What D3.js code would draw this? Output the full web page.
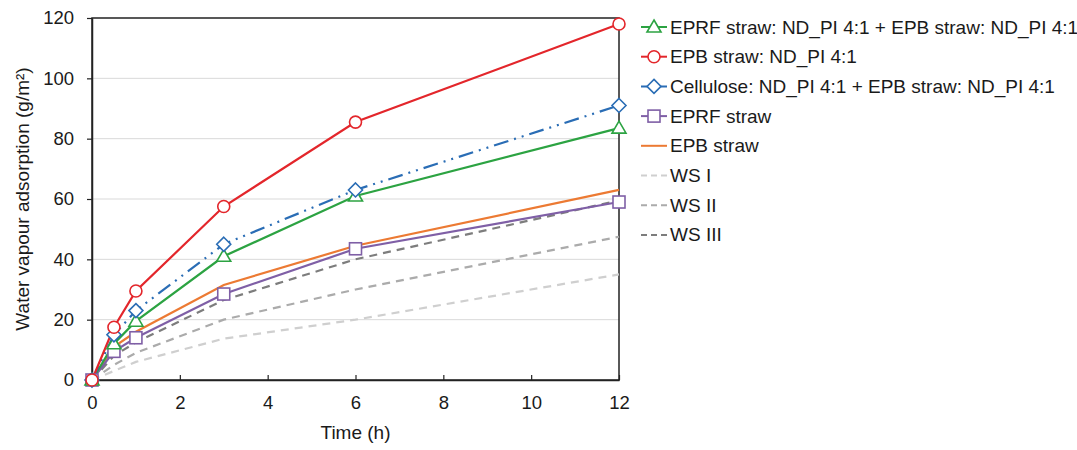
<!DOCTYPE html>
<html>
<head>
<meta charset="utf-8">
<script src="https://cdn.jsdelivr.net/npm/d3@7"></script>
<style>
  body { margin: 0; background: #fff; }
  svg { font-family: "Liberation Sans", Arial, sans-serif; }
</style>
</head>
<body>
<svg id="chart" width="1077" height="450"></svg>
<script>
// times in hours
const times = [0, 0.5, 1, 3, 6, 12];

const eprfMix = [0, 12, 19.5, 41, 61, 83.5];
const epbNd = [0, 17.5, 29.5, 57.5, 85.5, 118];
const celluloseMix = [0, 15, 23, 45, 63, 91];
const eprfStraw = [0, 9.5, 14, 28.5, 43.5, 59];
const epbStraw = [0, 11, 16, 31.5, 44.5, 63];
const ws1 = [0, 3, 6, 13.7, 20, 35];
const ws2 = [0, 5, 9, 20, 30, 47.5];
const ws3 = [0, 8, 12.5, 26.5, 40, 59.5];

const xTicks = [0, 2, 4, 6, 8, 10, 12];
const yTicks = [0, 20, 40, 60, 80, 100, 120];

const series = [
  { name: "EPRF straw: ND_PI 4:1 + EPB straw: ND_PI 4:1", values: eprfMix, color: "#2ca342", marker: "triangle" },
  { name: "EPB straw: ND_PI 4:1", values: epbNd, color: "#e3262b", marker: "circle" },
  { name: "Cellulose: ND_PI 4:1 + EPB straw: ND_PI 4:1", values: celluloseMix, color: "#2a6db5", marker: "diamond", dash: "15,6,2,6,2,6" },
  { name: "EPRF straw", values: eprfStraw, color: "#7f5fa6", marker: "square" },
  { name: "EPB straw", values: epbStraw, color: "#ec7a33", marker: null },
  { name: "WS I", values: ws1, color: "#cfcfcf", marker: null, dash: "8,6" },
  { name: "WS II", values: ws2, color: "#ababab", marker: null, dash: "8,6" },
  { name: "WS III", values: ws3, color: "#7d7d7d", marker: null, dash: "8,6" }
];

const svg = d3.select("#chart");
const margin = { left: 92, top: 18, right: 458, bottom: 70 };
const W = 1077, H = 450;

const x = d3.scaleLinear().domain([0, 12]).range([margin.left, W - margin.right]);
const y = d3.scaleLinear().domain([0, 120]).range([H - margin.bottom, margin.top]);

// grid
svg.append("g").selectAll("line")
  .data(yTicks.filter(t => t > 0 && t < 120))
  .join("line")
  .attr("x1", x(0)).attr("x2", x(12))
  .attr("y1", d => y(d)).attr("y2", d => y(d))
  .attr("stroke", "#d9d9d9").attr("stroke-width", 1);

// frame
svg.append("rect")
  .attr("x", x(0)).attr("y", y(120))
  .attr("width", x(12) - x(0)).attr("height", y(0) - y(120))
  .attr("fill", "none").attr("stroke", "#222").attr("stroke-width", 1.5);

// axes
const xAxis = svg.append("g")
  .attr("transform", `translate(0,${y(0)})`)
  .call(d3.axisBottom(x).tickValues(xTicks).tickSizeInner(-5).tickSizeOuter(0).tickPadding(16));
const yAxis = svg.append("g")
  .attr("transform", `translate(${x(0)},0)`)
  .call(d3.axisLeft(y).tickValues(yTicks).tickSizeInner(5).tickSizeOuter(0).tickPadding(13));

[xAxis, yAxis].forEach(a => {
  a.select(".domain").attr("stroke", "#222").attr("stroke-width", 1.5);
  a.selectAll(".tick line").attr("stroke", "#222").attr("stroke-width", 1.2);
  a.selectAll(".tick text").attr("fill", "#1a1a1a").style("font-size", "18.5px");
});

svg.append("text")
  .attr("x", x(6)).attr("y", 439)
  .attr("text-anchor", "middle")
  .style("font-size", "19px").attr("fill", "#1a1a1a")
  .text("Time (h)");

svg.append("text")
  .attr("transform", `translate(29,${y(60)}) rotate(-90)`)
  .attr("text-anchor", "middle")
  .style("font-size", "19px").attr("fill", "#1a1a1a")
  .text("Water vapour adsorption  (g/m²)");

const line = d3.line().x((d, i) => x(times[i])).y(d => y(d));

function drawMarker(g, type, cx, cy, color) {
  const s = 6;
  if (type === "circle") {
    g.append("circle").attr("cx", cx).attr("cy", cy).attr("r", s)
      .attr("fill", "#fff").attr("stroke", color).attr("stroke-width", 1.6);
  } else if (type === "square") {
    g.append("rect").attr("x", cx - s).attr("y", cy - s).attr("width", 2 * s).attr("height", 2 * s)
      .attr("fill", "#fff").attr("stroke", color).attr("stroke-width", 1.6);
  } else if (type === "diamond") {
    g.append("path").attr("d", `M${cx},${cy - s - 1}L${cx + s + 1},${cy}L${cx},${cy + s + 1}L${cx - s - 1},${cy}Z`)
      .attr("fill", "#fff").attr("stroke", color).attr("stroke-width", 1.6);
  } else if (type === "triangle") {
    g.append("path").attr("d", `M${cx},${cy - s - 1}L${cx + s + 1},${cy + s - 1}L${cx - s - 1},${cy + s - 1}Z`)
      .attr("fill", "#fff").attr("stroke", color).attr("stroke-width", 1.6);
  }
}

// draw series, gray ones first so coloured ones sit on top
const order = [5, 6, 7, 4, 3, 0, 2, 1];
order.forEach(k => {
  const s = series[k];
  svg.append("path")
    .datum(s.values)
    .attr("d", line)
    .attr("fill", "none")
    .attr("stroke", s.color)
    .attr("stroke-width", 2.2)
    .attr("stroke-dasharray", s.dash || null);
});
order.forEach(k => {
  const s = series[k];
  if (!s.marker) return;
  const g = svg.append("g");
  s.values.forEach((v, i) => drawMarker(g, s.marker, x(times[i]), y(v), s.color));
});

// legend
const legend = svg.append("g");
series.forEach((s, i) => {
  const ly = 27 + i * 29.7;
  const g = legend.append("g");
  g.append("line")
    .attr("x1", 641).attr("x2", 667).attr("y1", ly).attr("y2", ly)
    .attr("stroke", s.color).attr("stroke-width", 2)
    .attr("stroke-dasharray", s.dash ? "6,4" : null);
  if (s.marker) drawMarker(g, s.marker, 654, ly, s.color);
  g.append("text")
    .attr("x", 670).attr("y", ly + 6.5)
    .style("font-size", "19px").attr("fill", "#1a1a1a")
    .text(s.name);
});
</script>
</body>
</html>
